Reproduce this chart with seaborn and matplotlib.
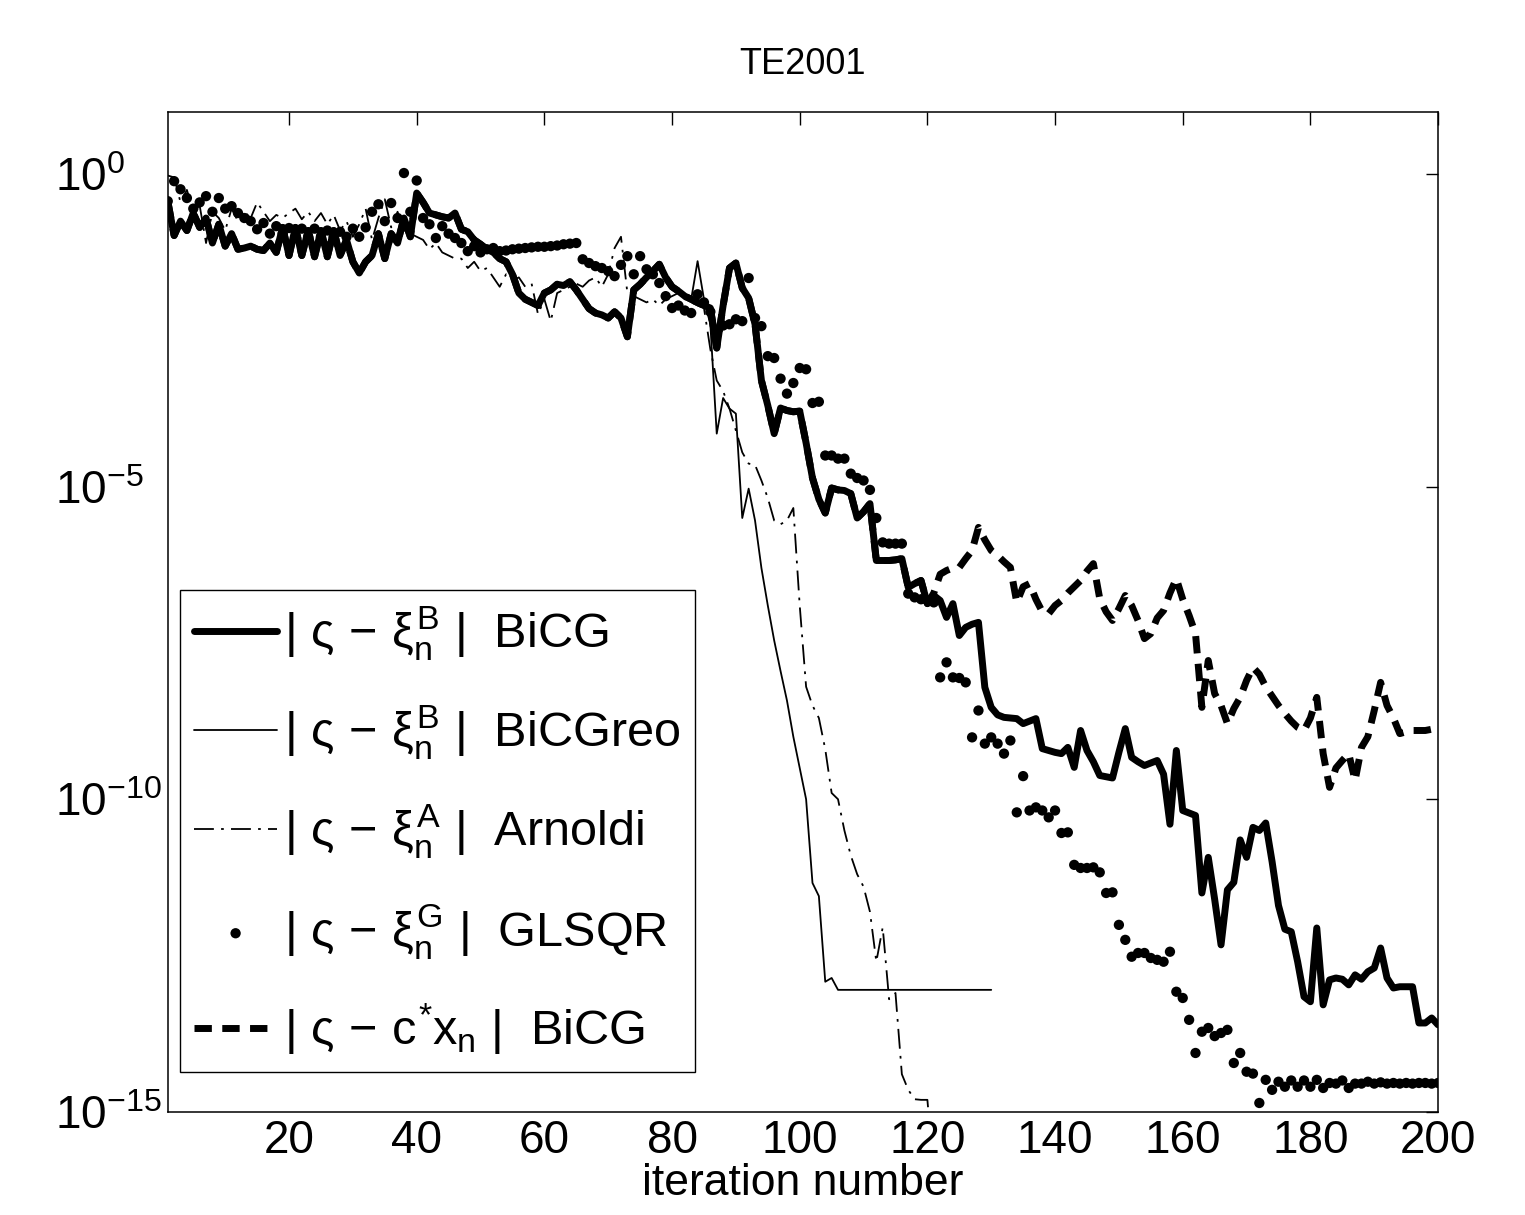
import numpy as np
import pandas as pd
import seaborn as sns
import matplotlib
matplotlib.use("Agg")
import matplotlib.pyplot as plt

# log10 of the error, iteration 1..n
bicg_log = [
    -0.43, -0.98, -0.75, -0.90, -0.62, -0.85, -0.70, -1.10, -0.80, -1.15,
    -0.95, -1.20, -1.18, -1.15, -1.20, -1.22, -1.10, -1.25, -0.85, -1.30,
    -0.85, -1.30, -0.90, -1.32, -0.90, -1.32, -0.90, -1.30, -1.05, -1.40,
    -1.58, -1.40, -1.30, -0.95, -1.35, -0.95, -1.10, -0.70, -1.00, -0.30,
    -0.45, -0.62, -0.65, -0.68, -0.70, -0.62, -0.88, -0.92, -1.05, -1.12,
    -1.20, -1.25, -1.35, -1.40, -1.60, -1.90, -2.00, -2.05, -2.10, -1.90,
    -1.85, -1.76, -1.78, -1.72, -1.85, -2.00, -2.15, -2.22, -2.25, -2.30,
    -2.20, -2.30, -2.60, -1.85, -1.76, -1.65, -1.55, -1.44, -1.65, -1.80,
    -1.87, -1.95, -2.00, -2.05, -2.10, -2.14, -2.78, -2.10, -1.50, -1.42,
    -1.82, -1.98, -2.40, -3.30, -3.70, -4.15, -3.74, -3.78, -3.80, -3.79,
    -4.30, -4.86, -5.20, -5.42, -5.02, -5.05, -5.06, -5.11, -5.50, -5.40,
    -5.27, -6.18, -6.18, -6.18, -6.17, -6.15, -6.61, -6.55, -6.50, -6.87,
    -6.74, -6.82, -7.09, -6.87, -7.38, -7.25, -7.20, -7.17, -8.21, -8.53,
    -8.65, -8.69, -8.70, -8.71, -8.79, -8.75, -8.71, -9.19, -9.22, -9.25,
    -9.27, -9.17, -9.49, -8.90, -9.22, -9.40, -9.62, -9.64, -9.66, -9.25,
    -8.87, -9.33, -9.40, -9.46, -9.42, -9.38, -9.60, -10.40, -9.22, -10.18,
    -10.22, -10.26, -11.50, -10.93, -11.60, -12.33, -11.45, -11.33, -10.65, -10.93,
    -10.45, -10.50, -10.38, -11.00, -11.70, -12.08, -12.12, -12.60, -13.16, -13.24,
    -12.06, -13.29, -12.89, -12.86, -12.88, -12.97, -12.81, -12.88, -12.76, -12.70,
    -12.38, -12.86, -13.02, -13.00, -13.00, -13.00, -13.58, -13.58, -13.50, -13.61,
]

# BiCG with reorthogonalisation: same as BiCG up to it. 83, then:
bicgreo_tail_log = [
    -1.39, -2.00, -2.40, -4.15, -3.58, -3.75, -3.83, -5.50, -5.03, -5.54,
    -6.30, -6.90, -7.46, -7.95, -8.42, -9.00, -9.50, -10.00, -11.34, -11.55,
    -12.92, -12.86, -13.05, -13.05, -13.05, -13.05, -13.05, -13.05, -13.05, -13.05,
    -13.05, -13.05, -13.05, -13.05, -13.05, -13.05, -13.05, -13.05, -13.05, -13.05,
    -13.05, -13.05, -13.05, -13.05, -13.05, -13.05, -13.05,
]

arnoldi_log = [
    -0.02, -0.05, -0.45, -0.25, -0.60, -0.50, -1.10, -0.60, -0.70, -0.90,
    -0.55, -0.75, -0.60, -0.70, -0.45, -0.60, -0.75, -0.65, -0.70, -0.62,
    -0.55, -0.72, -0.60, -0.75, -0.62, -0.80, -0.65, -0.90, -0.75, -1.00,
    -0.80, -0.55, -1.05, -0.70, -0.40, -0.85, -0.60, -0.90, -0.95, -1.00,
    -1.05, -1.20, -1.10, -1.25, -1.30, -1.35, -1.35, -1.50, -1.40, -1.55,
    -1.50, -1.65, -1.80, -1.60, -1.70, -1.65, -1.80, -1.75, -2.24, -2.00,
    -2.35, -1.90, -1.85, -1.80, -1.75, -1.80, -1.70, -1.65, -1.80, -1.60,
    -1.18, -1.00, -1.90, -1.95, -2.00, -2.05, -2.00, -2.10, -2.00, -1.95,
    -1.90, -2.00, -2.05, -2.10, -2.14, -2.80, -3.30, -3.47, -3.75, -4.10,
    -4.45, -4.63, -4.65, -4.90, -5.18, -5.54, -5.60, -5.54, -5.34, -6.90,
    -8.20, -8.50, -8.70, -9.20, -9.90, -10.00, -10.50, -10.90, -11.20, -11.40,
    -11.80, -12.60, -12.05, -13.20, -13.10, -14.40, -14.65, -14.80, -14.81, -14.81,
    -16.00,
]

glsqr_log = [
    -0.43, -0.11, -0.24, -0.38, -0.55, -0.45, -0.35, -0.60, -0.38, -0.55,
    -0.51, -0.62, -0.70, -0.75, -0.88, -0.78, -0.95, -0.83, -0.95, -0.86,
    -1.00, -0.87, -1.00, -0.87, -1.00, -0.90, -1.00, -0.92, -1.00, -0.87,
    -1.00, -0.85, -0.60, -0.48, -0.75, -0.46, -0.70, 0.02, -0.60, -0.10,
    -0.70, -0.80, -1.02, -0.83, -0.95, -1.02, -1.10, -1.23, -1.15, -1.25,
    -1.20, -1.18, -1.23, -1.22, -1.20, -1.19, -1.18, -1.17, -1.16, -1.16,
    -1.15, -1.14, -1.12, -1.11, -1.10, -1.36, -1.42, -1.47, -1.50, -1.55,
    -1.63, -1.45, -1.31, -1.60, -1.31, -1.52, -1.60, -1.74, -1.95, -2.14,
    -2.10, -2.18, -2.22, -1.92, -2.05, -2.20, -2.55, -2.42, -2.40, -2.32,
    -2.35, -1.66, -2.30, -2.43, -2.91, -2.94, -3.27, -3.51, -3.34, -3.10,
    -3.12, -3.66, -3.64, -4.50, -4.50, -4.55, -4.55, -4.79, -4.86, -4.90,
    -5.05, -5.50, -5.89, -5.91, -5.91, -5.91, -6.71, -6.77, -6.80, -6.82,
    -6.85, -8.05, -7.81, -8.05, -8.06, -8.13, -9.01, -8.58, -9.11, -9.01,
    -9.11, -9.27, -9.06, -10.21, -9.63, -10.18, -10.13, -10.18, -10.29, -10.18,
    -10.54, -10.53, -11.05, -11.10, -11.10, -11.09, -11.17, -11.50, -11.49, -12.01,
    -12.25, -12.52, -12.46, -12.46, -12.54, -12.57, -12.60, -12.44, -13.08, -13.18,
    -13.53, -14.06, -13.72, -13.66, -13.79, -13.74, -13.69, -14.22, -14.06, -14.36,
    -14.39, -14.86, -14.49, -14.65, -14.52, -14.60, -14.50, -14.60, -14.50, -14.60,
    -14.49, -14.62, -14.54, -14.55, -14.50, -14.62, -14.55, -14.55, -14.52, -14.55,
    -14.53, -14.55, -14.54, -14.55, -14.54, -14.55, -14.54, -14.54, -14.55, -14.54,
]

# |s - c* x_n| from BiCG: hidden under the BiCG curve up to it. 120, then:
cx_tail_log = [
    -6.70, -6.40, -6.34, -6.30, -6.29, -6.15, -6.02, -5.65, -5.85, -6.02,
    -6.10, -6.20, -6.29, -6.85, -6.60, -6.55, -6.80, -7.00, -7.03, -6.90,
    -6.82, -6.70, -6.60, -6.50, -6.35, -6.23, -6.79, -7.00, -7.14, -6.95,
    -6.74, -6.90, -7.14, -7.43, -7.35, -7.10, -6.98, -6.70, -6.47, -6.80,
    -7.06, -7.35, -8.53, -7.78, -8.31, -8.50, -8.79, -8.55, -8.37, -8.10,
    -7.89, -8.00, -8.20, -8.35, -8.50, -8.63, -8.75, -8.85, -8.90, -8.70,
    -8.37, -9.27, -9.81, -9.50, -9.38, -9.27, -9.70, -9.17, -9.00, -8.58,
    -8.13, -8.50, -8.70, -8.95, -8.92, -8.90, -8.90, -8.90, -8.88, -8.88,
]

bicgreo_log = bicg_log[:83] + bicgreo_tail_log
cx_log = bicg_log[:120] + cx_tail_log


def series(vals):
    it = np.arange(1, len(vals) + 1)
    return pd.DataFrame({"iteration": it, "err": 10.0 ** np.array(vals)})


sns.set_theme(style="white")
plt.rcParams["font.family"] = ["Liberation Sans", "DejaVu Sans"]
plt.rcParams["mathtext.fontset"] = "custom"
plt.rcParams["mathtext.rm"] = "Liberation Sans"
plt.rcParams["mathtext.it"] = "Liberation Sans"
plt.rcParams["mathtext.bf"] = "Liberation Sans:bold"
for key in ["text.color", "axes.labelcolor", "xtick.color", "ytick.color", "axes.edgecolor"]:
    plt.rcParams[key] = "black"

fig, ax = plt.subplots(figsize=(15.25, 12.15), dpi=100)
fig.subplots_adjust(left=0.110, right=0.943, top=0.908, bottom=0.085)

lab_bicg = r"$|\ ς\,-\,ξ_n^B\ |\ \ \mathrm{BiCG}$"
lab_reo = r"$|\ ς\,-\,ξ_n^B\ |\ \ \mathrm{BiCGreo}$"
lab_arn = r"$|\ ς\,-\,ξ_n^A\ |\ \ \mathrm{Arnoldi}$"
lab_gls = r"$|\ ς\,-\,ξ_n^G\ |\ \ \mathrm{GLSQR}$"
lab_cx = r"$|\ ς\,-\,c^{*}x_n\ |\ \ \mathrm{BiCG}$"

sns.lineplot(data=series(bicg_log), x="iteration", y="err", ax=ax,
             color="black", lw=5, label=lab_bicg, estimator=None, sort=False)
sns.lineplot(data=series(bicgreo_log), x="iteration", y="err", ax=ax,
             color="black", lw=1.3, label=lab_reo, estimator=None, sort=False)
sns.lineplot(data=series(arnoldi_log), x="iteration", y="err", ax=ax,
             color="black", lw=1.3, linestyle=(0, (11, 4, 1.5, 4)),
             label=lab_arn, estimator=None, sort=False)
sns.scatterplot(data=series(glsqr_log), x="iteration", y="err", ax=ax,
                color="black", s=55, edgecolor="none", label=lab_gls)
sns.lineplot(data=series(cx_log), x="iteration", y="err", ax=ax,
             color="black", lw=5, linestyle=(0, (2.5, 1.5)),
             label=lab_cx, estimator=None, sort=False)

ax.set_yscale("log")
ax.set_xlim(1, 200)
ax.set_ylim(1e-15, 1e1)
ax.set_xticks([20, 40, 60, 80, 100, 120, 140, 160, 180, 200])
ax.set_yticks([1e-15, 1e-10, 1e-5, 1e0])
ax.minorticks_off()
ax.tick_params(axis="both", which="major", direction="in", length=9, width=1.0,
               top=True, right=True, labelsize=33, color="black", labelcolor="black")
ax.tick_params(axis="x", pad=5)
# MATLAB-style: the "10" of each y label lines up on the left
ax.tick_params(axis="y", pad=81)
for lab in ax.get_yticklabels():
    lab.set_horizontalalignment("left")
for sp in ax.spines.values():
    sp.set_color("black")
    sp.set_linewidth(1.1)

ax.set_title("TE2001", fontsize=26, pad=27)
ax.set_xlabel("iteration number", fontsize=32, labelpad=0)
ax.set_ylabel("")

leg = ax.legend(loc="lower left", bbox_to_anchor=(0.0094, 0.04), borderaxespad=0,
                fontsize=35, handlelength=1.7, handletextpad=0.15,
                labelspacing=0.84, borderpad=0.3, fancybox=False, framealpha=1,
                edgecolor="black")
leg.get_frame().set_linewidth(1.0)

plt.savefig("out.png", dpi=100)
